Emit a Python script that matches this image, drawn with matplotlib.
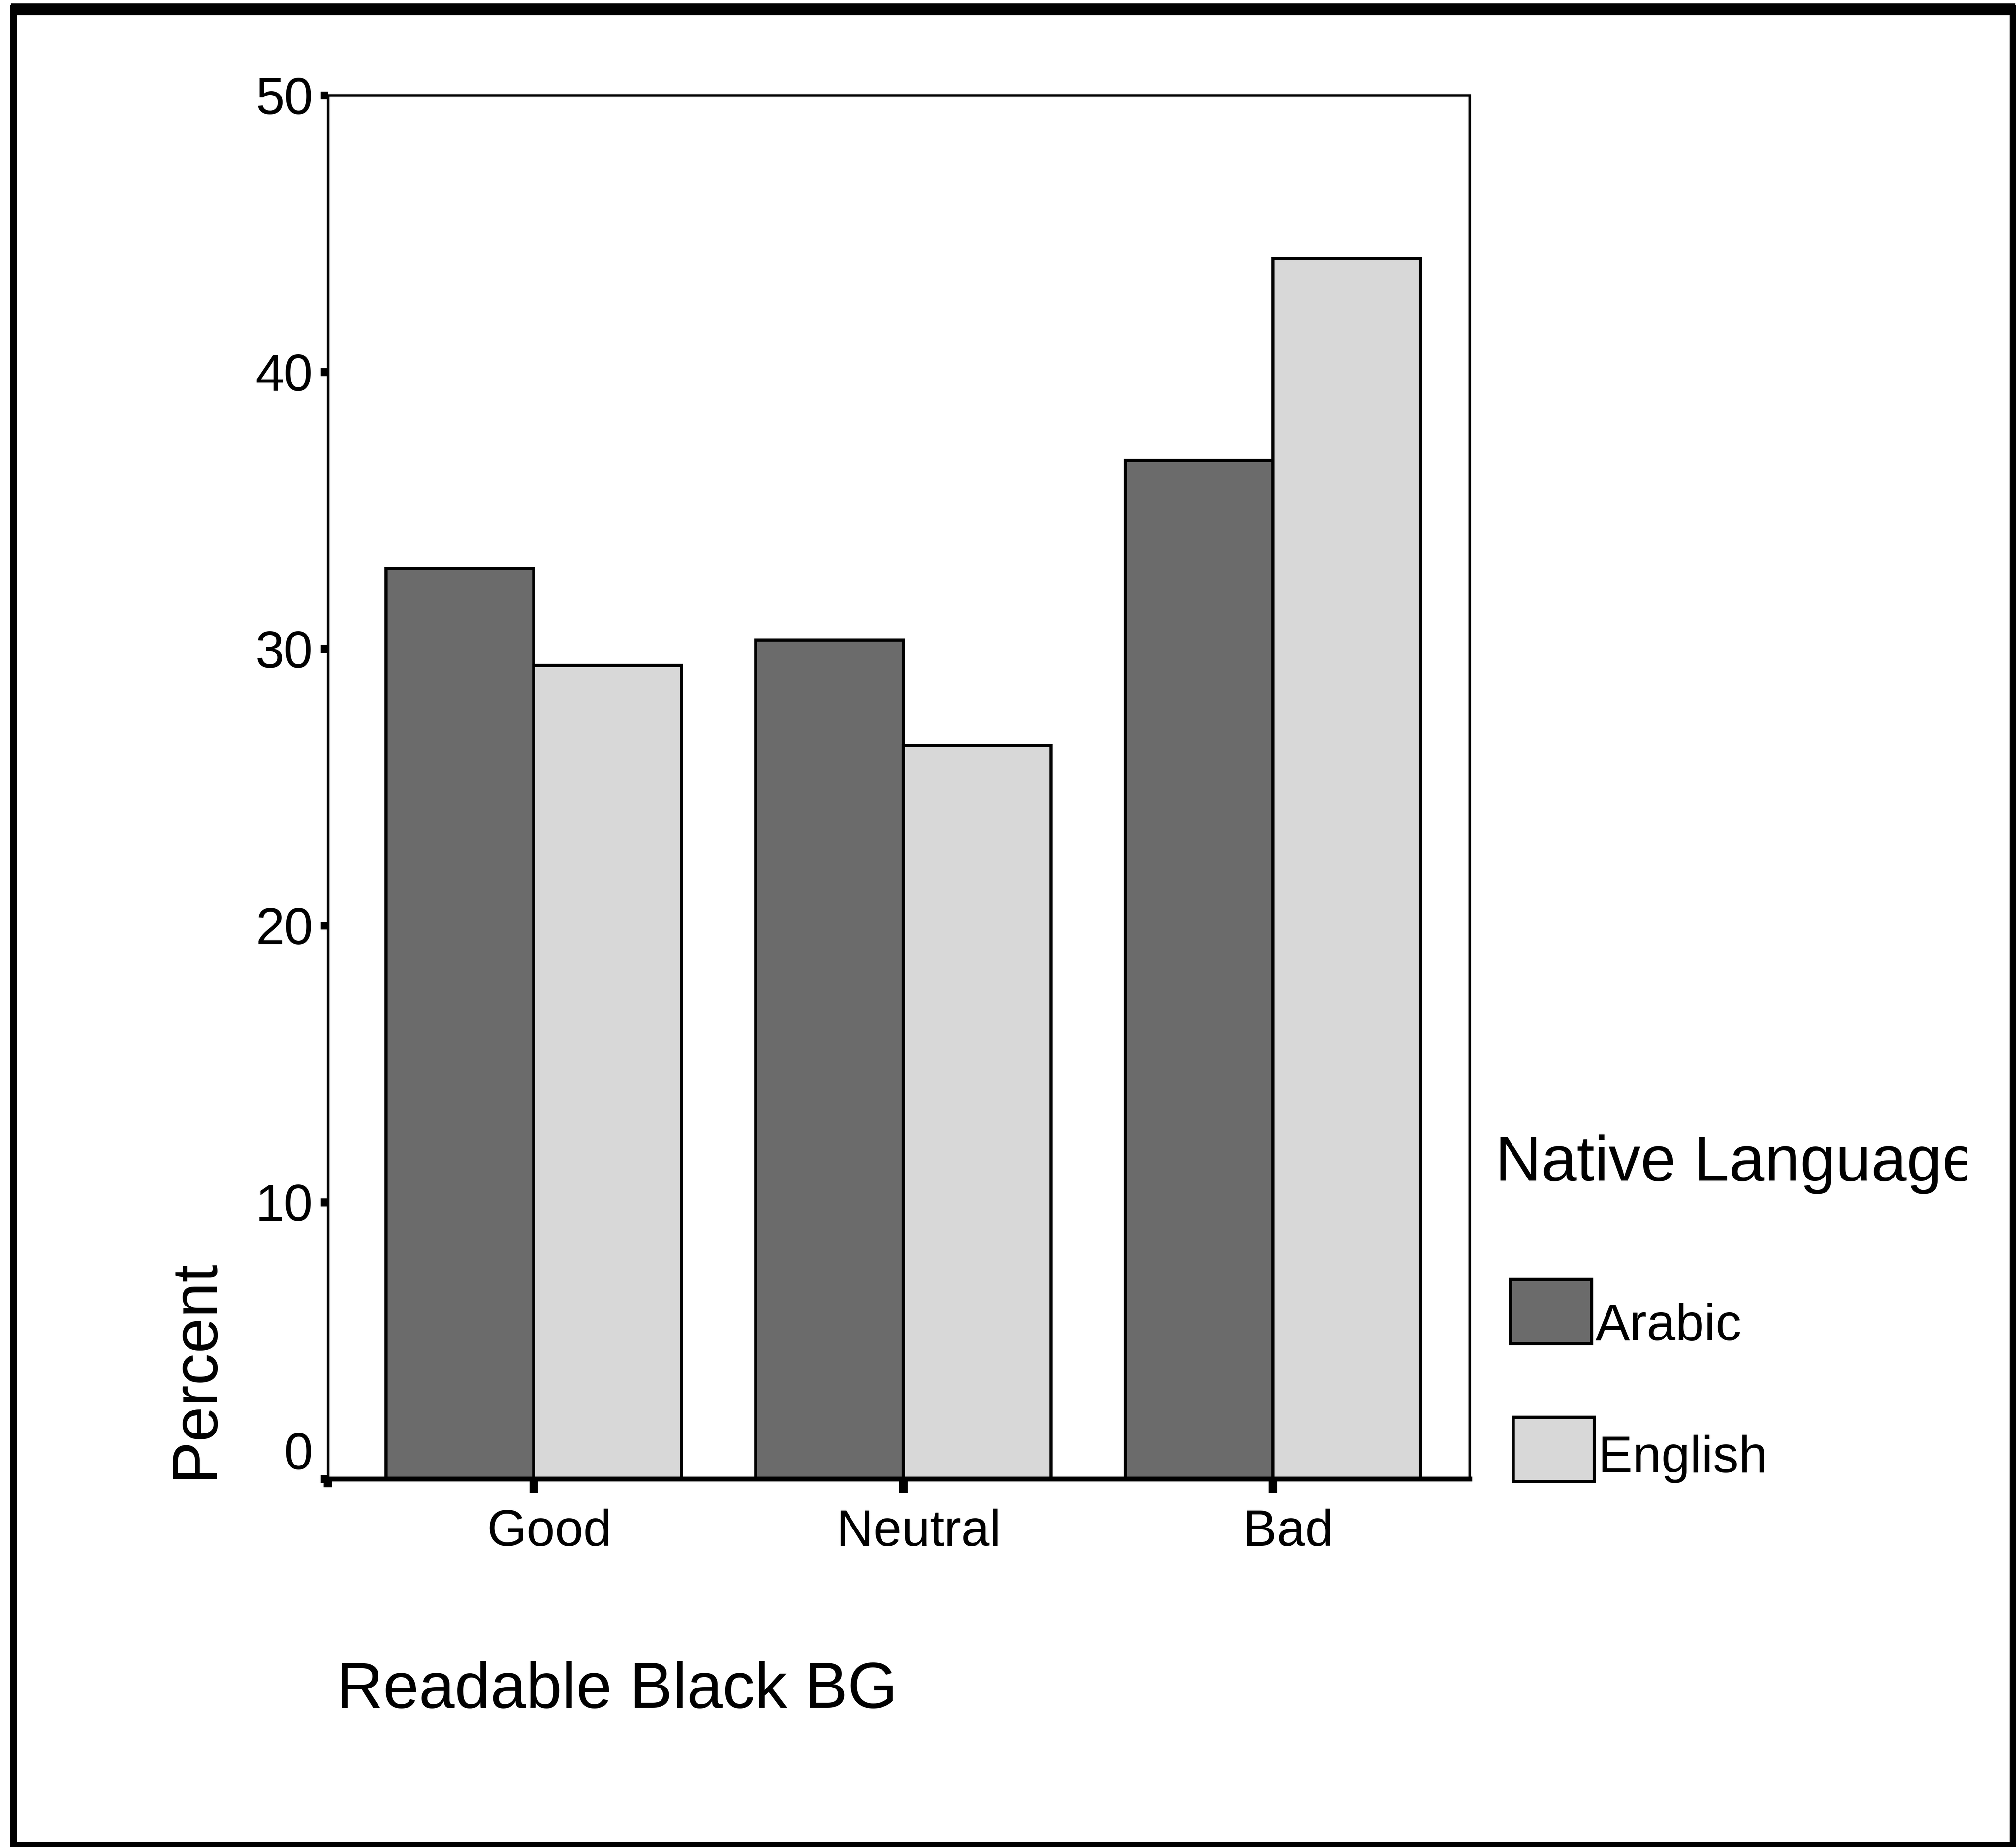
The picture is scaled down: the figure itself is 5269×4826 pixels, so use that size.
import matplotlib
matplotlib.use("Agg")
import matplotlib.pyplot as plt
import matplotlib.transforms as mtransforms
from matplotlib.patches import Rectangle
from matplotlib.lines import Line2D
import numpy as np

# ---- data -------------------------------------------------------------
categories = ["Good", "Neutral", "Bad"]
arabic = [32.9, 30.3, 36.8]
english = [29.4, 26.5, 44.1]
series_labels = ["Arabic", "English"]
y_ticks = [0, 10, 20, 30, 40, 50]

# ---- styling ----------------------------------------------------------
W, H, DPI = 5269, 4826, 100
FONT = ["Liberation Sans", "DejaVu Sans"]
DARK = "#6b6b6b"
LIGHT = "#d8d8d8"
plt.rcParams["font.family"] = FONT


def fx(px):
    return px / W


def fy(py):
    return 1 - py / H


fig = plt.figure(figsize=(W / DPI, H / DPI), dpi=DPI)
fig.patch.set_facecolor("white")

# plot area
ax_l, ax_r, ax_t, ax_b = 857, 3841, 249, 3864
ax = fig.add_axes([fx(ax_l), fy(ax_b), fx(ax_r) - fx(ax_l), fy(ax_t) - fy(ax_b)])

x = np.arange(len(categories))
bw = 0.4
ax.bar(x - bw / 2, arabic, width=bw, color=DARK, edgecolor="black",
       linewidth=6, zorder=2)
ax.bar(x + bw / 2, english, width=bw, color=LIGHT, edgecolor="black",
       linewidth=6, zorder=2)

ax.set_xlim(-0.557, 2.532)
ax.set_ylim(0, 50)

for s in ["left", "right", "top"]:
    ax.spines[s].set_linewidth(5)
ax.spines["bottom"].set_linewidth(9)
ax.spines["bottom"].set_zorder(3)

ax.set_yticks(y_ticks)
ax.set_yticklabels([str(v) for v in y_ticks])
ax.tick_params(axis="y", direction="out", length=14, width=15,
               labelsize=97, pad=14, colors="black")

ax.set_xticks(x)
ax.set_xticklabels(categories)
ax.set_xticks([-0.557], minor=True)
ax.tick_params(axis="x", which="major", direction="out", length=26, width=16,
               labelsize=96, pad=30)
ax.tick_params(axis="x", which="minor", direction="out", length=16, width=16)

# nudge the "0" label upward and the category labels slightly right
offset_up = mtransforms.ScaledTranslation(0, 74 / DPI, fig.dpi_scale_trans)
ax.get_yticklabels()[0].set_transform(ax.get_yticklabels()[0].get_transform() + offset_up)
offset_right = mtransforms.ScaledTranslation(40 / DPI, 0, fig.dpi_scale_trans)
for lbl in ax.get_xticklabels():
    lbl.set_transform(lbl.get_transform() + offset_right)

# axis titles
fig.text(fx(554), fy(3864), "Percent", rotation=90, rotation_mode="anchor",
         ha="left", va="baseline", fontsize=120)
fig.text(fx(880), fy(4462), "Readable Black BG", ha="left", va="baseline",
         fontsize=121)

# legend
title = fig.text(fx(3908), fy(3085), "Native Language", ha="left",
                 va="baseline", fontsize=120)
clip = mtransforms.TransformedBbox(
    mtransforms.Bbox([[fx(3800), fy(3300)], [fx(5141), fy(2800)]]),
    fig.transFigure)
title.set_clip_box(clip)
title.set_clip_on(True)

legend_rows = [
    (series_labels[0], DARK, 3948, 3343, 3501),
    (series_labels[1], LIGHT, 3955, 3703, 3847),
]
for label, color, bx, by_top, baseline in legend_rows:
    bw_px, bh_px = 212, 168
    fig.patches.append(Rectangle((fx(bx), fy(by_top + bh_px)),
                                 bw_px / W, bh_px / H,
                                 transform=fig.transFigure,
                                 facecolor=color, edgecolor="black",
                                 linewidth=6))
    fig.text(fx(bx + bw_px + 10), fy(baseline), label, ha="left",
             va="baseline", fontsize=97)

# outer frame (heavier along the top edge)
fig.patches.append(Rectangle((fx(35), fy(4821)), fx(5261) - fx(35),
                             fy(22) - fy(4821), transform=fig.transFigure,
                             facecolor="none", edgecolor="black",
                             linewidth=13))
fig.lines.append(Line2D([fx(28), fx(5266)], [fy(24), fy(24)],
                        transform=fig.transFigure, color="black",
                        linewidth=22, solid_capstyle="butt"))

fig.savefig("out.png", dpi=DPI, facecolor="white")
